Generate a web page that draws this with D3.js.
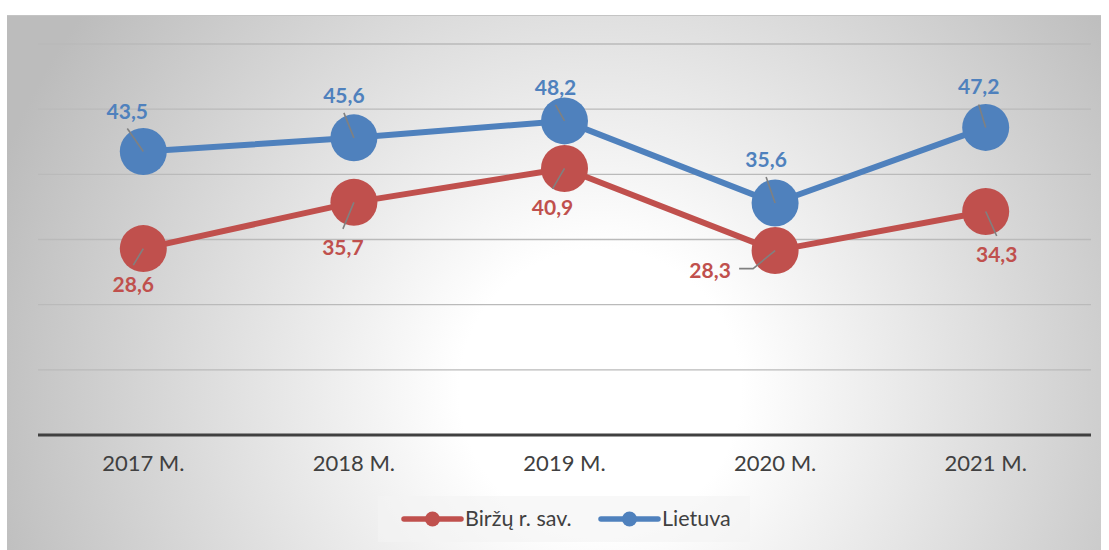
<!DOCTYPE html>
<html>
<head>
<meta charset="utf-8">
<script src="https://cdn.jsdelivr.net/npm/d3@7"></script>
<style>
  html, body { margin: 0; padding: 0; background: #ffffff; }
  svg { display: block; }
</style>
</head>
<body>
<svg id="chart" width="1109" height="550"></svg>
<script>
// Data
const years = ["2017 M.", "2018 M.", "2019 M.", "2020 M.", "2021 M."];
const birzuValues = [28.6, 35.7, 40.9, 28.3, 34.3];
const lietuvaValues = [43.5, 45.6, 48.2, 35.6, 47.2];
const seriesNames = ["Biržų r. sav.", "Lietuva"];
const yTicks = [0, 10, 20, 30, 40, 50, 60];

// Manual placement of data labels (offset of label centre/baseline from the point)
const birzuLabelOffsets = [[-10, 43], [-11, 53], [-12, 47], [-65, 27], [11, 51]];
const lietuvaLabelOffsets = [[-16, -33], [-10, -35], [-9, -26], [-9, -36], [-7, -33]];

const W = 1109, H = 550;
const plot = { left: 38, right: 1091, top: 44, bottom: 435 };
const colors = { birzu: "#C0504D", lietuva: "#4F81BD" };
const fontFamily = "Lato, 'Open Sans', 'Liberation Sans', sans-serif";

const svg = d3.select("#chart");

// Background gradient
const defs = svg.append("defs");
const grad = defs.append("radialGradient")
  .attr("id", "bg")
  .attr("gradientUnits", "userSpaceOnUse")
  .attr("cx", 600).attr("cy", 390).attr("r", 640);
grad.append("stop").attr("offset", "0%").attr("stop-color", "#ffffff");
grad.append("stop").attr("offset", "22%").attr("stop-color", "#ffffff");
grad.append("stop").attr("offset", "100%").attr("stop-color", "#bcbcbc");

svg.append("rect")
  .attr("x", 7).attr("y", 15)
  .attr("width", 1094).attr("height", H - 15)
  .attr("fill", "url(#bg)");
svg.append("line")
  .attr("x1", 7).attr("x2", 1101).attr("y1", 15.5).attr("y2", 15.5)
  .attr("stroke", "#c4c4c4").attr("stroke-width", 1);

// Scales
const x = d3.scaleBand().domain(years).range([plot.left, plot.right]).padding(0);
const y = d3.scaleLinear().domain([0, 60]).range([plot.bottom, plot.top]);
const cx = d => x(d) + x.bandwidth() / 2;

// Gridlines
svg.append("g")
  .selectAll("line")
  .data(yTicks.filter(t => t > 0))
  .join("line")
  .attr("x1", plot.left).attr("x2", plot.right)
  .attr("y1", d => y(d)).attr("y2", d => y(d))
  .attr("stroke", "#bababa").attr("stroke-width", 1.4);

// X axis
const xAxis = svg.append("g")
  .attr("transform", `translate(0,${plot.bottom})`)
  .call(d3.axisBottom(x).tickSize(0).tickPadding(20));
xAxis.select(".domain").remove();
xAxis.append("line")
  .attr("x1", plot.left).attr("x2", plot.right)
  .attr("y1", 0).attr("y2", 0)
  .attr("stroke", "#404040").attr("stroke-width", 3);
xAxis.selectAll(".tick text")
  .attr("font-family", fontFamily)
  .attr("font-size", 22)
  .attr("fill", "#404040")
  .attr("dy", "0.71em");

const series = [
  { name: seriesNames[0], values: birzuValues, color: colors.birzu, offsets: birzuLabelOffsets },
  { name: seriesNames[1], values: lietuvaValues, color: colors.lietuva, offsets: lietuvaLabelOffsets }
];

const line = d3.line().x((d, i) => cx(years[i])).y(d => y(d));

series.forEach(s => {
  const g = svg.append("g");
  g.append("path")
    .datum(s.values)
    .attr("d", line)
    .attr("fill", "none")
    .attr("stroke", s.color)
    .attr("stroke-width", 6)
    .attr("stroke-linejoin", "round");
  g.selectAll("circle")
    .data(s.values)
    .join("circle")
    .attr("cx", (d, i) => cx(years[i]))
    .attr("cy", d => y(d))
    .attr("r", 23.5)
    .attr("fill", s.color);
});

// Data labels with leader lines
series.forEach(s => {
  const g = svg.append("g");
  s.values.forEach((v, i) => {
    const px = cx(years[i]), py = y(v);
    const [dx, dy] = s.offsets[i];
    const tx = px + dx, ty = py + dy;
    const label = v.toFixed(1).replace(".", ",");
    let pts;
    if (Math.abs(dx) > 40) {
      // label sits to the side: elbow leader
      const ex = dx < 0 ? tx + 29 : tx - 29;
      const ey = ty - 9;
      pts = [[px, py], [ex + (dx < 0 ? 14 : -14), ey], [ex, ey]];
    } else if (dy < 0) {
      pts = [[px, py], [tx, ty + 10]];
    } else {
      pts = [[px, py], [tx, ty - 26.5]];
    }
    g.append("path")
      .attr("d", d3.line()(pts))
      .attr("fill", "none")
      .attr("stroke", "#808080")
      .attr("stroke-width", 1.6);
    g.append("text")
      .attr("x", tx).attr("y", ty)
      .attr("text-anchor", "middle")
      .attr("font-family", fontFamily)
      .attr("font-weight", "bold")
      .attr("font-size", 21)
      .attr("fill", s.color)
      .text(label);
  });
});

// Legend
const legend = svg.append("g");
legend.append("rect")
  .attr("x", 378).attr("y", 496)
  .attr("width", 372).attr("height", 46)
  .attr("fill", "#f3f3f3").attr("fill-opacity", 0.6);
const legendItems = [
  { name: seriesNames[0], color: colors.birzu, x: 404 },
  { name: seriesNames[1], color: colors.lietuva, x: 601 }
];
legendItems.forEach(it => {
  legend.append("line")
    .attr("x1", it.x).attr("x2", it.x + 57)
    .attr("y1", 519).attr("y2", 519)
    .attr("stroke", it.color).attr("stroke-width", 5.5)
    .attr("stroke-linecap", "round");
  legend.append("circle")
    .attr("cx", it.x + 28.5).attr("cy", 519).attr("r", 7.5)
    .attr("fill", it.color);
  legend.append("text")
    .attr("x", it.x + 61).attr("y", 526)
    .attr("font-family", fontFamily)
    .attr("font-size", 21.5)
    .attr("fill", "#404040")
    .text(it.name);
});
</script>
</body>
</html>
